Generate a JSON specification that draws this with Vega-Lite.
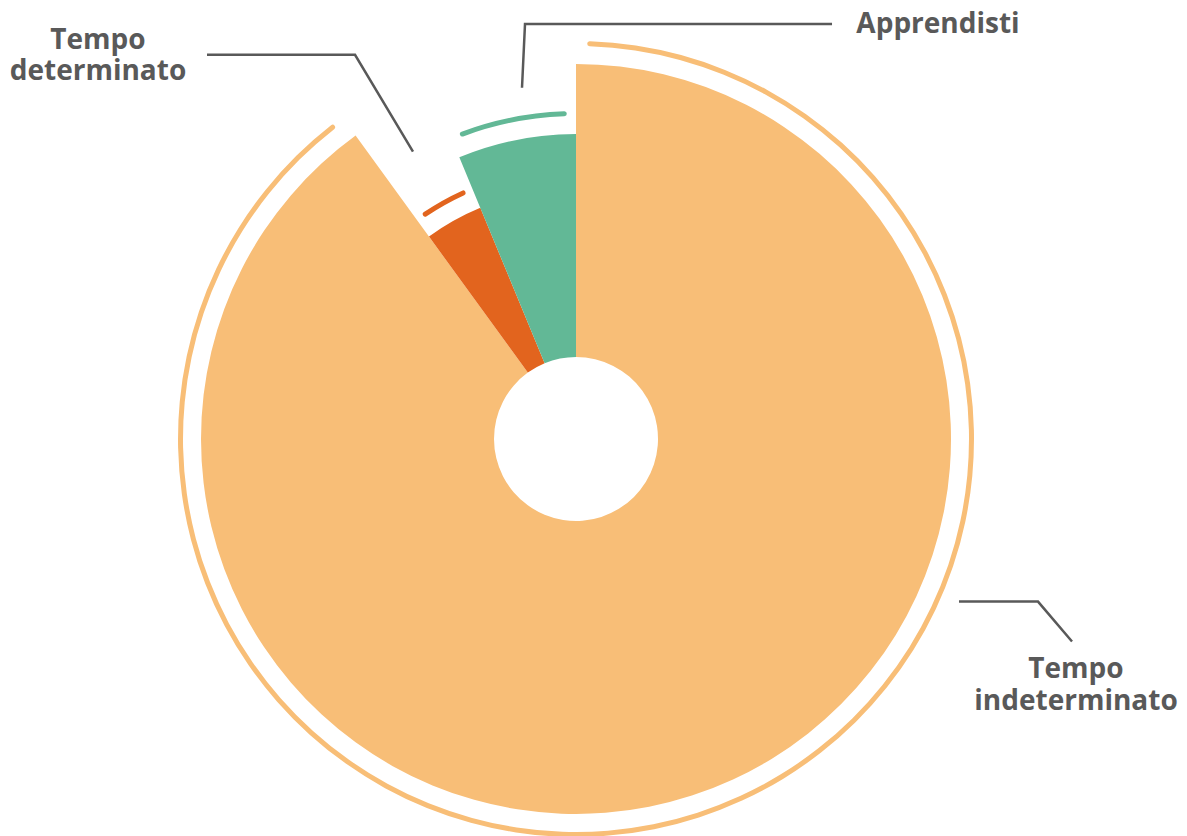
{
  "$schema": "https://vega.github.io/schema/vega-lite/v6.json",
  "width": 1187,
  "height": 836,
  "autosize": {"type": "fit", "contains": "padding"},
  "padding": 0,
  "background": "white",
  "config": {"view": {"stroke": null}},
  "datasets": {
    "segmenti": [
      {"contratto": "Tempo indeterminato", "quota": 90.0, "raggio": 100, "ordine": 1},
      {"contratto": "Tempo determinato", "quota": 3.75, "raggio": 66.7, "ordine": 2},
      {"contratto": "Apprendisti", "quota": 6.25, "raggio": 81.3, "ordine": 3}
    ],
    "richiami": [
      {"etichetta": "Tempo determinato", "punto": 1, "x": -98.4, "y": 102.67},
      {"etichetta": "Tempo determinato", "punto": 2, "x": -58.93, "y": 102.67},
      {"etichetta": "Tempo determinato", "punto": 3, "x": -43.47, "y": 76.8},
      {"etichetta": "Apprendisti", "punto": 1, "x": 68.27, "y": 110.93},
      {"etichetta": "Apprendisti", "punto": 2, "x": -13.6, "y": 110.93},
      {"etichetta": "Apprendisti", "punto": 3, "x": -14.4, "y": 93.87},
      {"etichetta": "Tempo indeterminato", "punto": 1, "x": 102.13, "y": -43.47},
      {"etichetta": "Tempo indeterminato", "punto": 2, "x": 123.2, "y": -43.47},
      {"etichetta": "Tempo indeterminato", "punto": 3, "x": 132.27, "y": -54.13}
    ],
    "etichette": [
      {"testo": "Tempo\ndeterminato", "x": -127.47, "y": 104.27},
      {"testo": "Apprendisti", "x": 96.53, "y": 108.53},
      {"testo": "Tempo\nindeterminato", "x": 133.33, "y": -64.0}
    ]
  },
  "layer": [
    {
      "data": {"name": "segmenti"},
      "transform": [
        {"stack": "quota", "groupby": [], "sort": [{"field": "ordine", "order": "ascending"}], "as": ["inizio", "fine"]}
      ],
      "mark": {"type": "arc", "innerRadius": 82},
      "encoding": {
        "x": {"datum": 0, "type": "quantitative", "scale": {"domain": [-153.6, 162.93], "nice": false, "zero": false}, "axis": null},
        "y": {"datum": 0, "type": "quantitative", "scale": {"domain": [-105.6, 117.33], "nice": false, "zero": false}, "axis": null},
        "theta": {"field": "inizio", "type": "quantitative", "stack": false, "scale": {"domain": [0, 100], "nice": false, "zero": true}},
        "theta2": {"field": "fine"},
        "radius": {"field": "raggio", "type": "quantitative", "scale": {"domain": [0, 100], "range": [0, 375], "zero": true}},
        "color": {
          "field": "contratto",
          "type": "nominal",
          "scale": {"domain": ["Tempo indeterminato", "Tempo determinato", "Apprendisti"], "range": ["#F8BE77", "#E2641E", "#62B896"]},
          "legend": null
        }
      }
    },
    {
      "data": {"name": "segmenti"},
      "transform": [
        {"stack": "quota", "groupby": [], "sort": [{"field": "ordine", "order": "ascending"}], "as": ["inizio", "fine"]}
      ],
      "mark": {"type": "arc", "radiusOffset": 23, "radius2Offset": 18, "padAngle": 0.04, "cornerRadius": 2.5},
      "encoding": {
        "x": {"datum": 0, "type": "quantitative", "scale": {"domain": [-153.6, 162.93], "nice": false, "zero": false}, "axis": null},
        "y": {"datum": 0, "type": "quantitative", "scale": {"domain": [-105.6, 117.33], "nice": false, "zero": false}, "axis": null},
        "theta": {"field": "inizio", "type": "quantitative", "stack": false, "scale": {"domain": [0, 100], "nice": false, "zero": true}},
        "theta2": {"field": "fine"},
        "radius": {"field": "raggio", "type": "quantitative", "scale": {"domain": [0, 100], "range": [0, 375], "zero": true}},
        "radius2": {"field": "raggio"},
        "color": {
          "field": "contratto",
          "type": "nominal",
          "scale": {"domain": ["Tempo indeterminato", "Tempo determinato", "Apprendisti"], "range": ["#F8BE77", "#E2641E", "#62B896"]},
          "legend": null
        }
      }
    },
    {
      "data": {"name": "richiami"},
      "mark": {"type": "line", "color": "#595959", "strokeWidth": 2.5, "strokeJoin": "miter"},
      "encoding": {
        "x": {"field": "x", "type": "quantitative", "scale": {"domain": [-153.6, 162.93], "nice": false, "zero": false}, "axis": null},
        "y": {"field": "y", "type": "quantitative", "scale": {"domain": [-105.6, 117.33], "nice": false, "zero": false}, "axis": null},
        "detail": {"field": "etichetta", "type": "nominal"},
        "order": {"field": "punto", "type": "quantitative"}
      }
    },
    {
      "data": {"name": "etichette"},
      "mark": {"type": "text", "font": "Open Sans", "fontWeight": "bold", "fontSize": 28, "color": "#595959", "lineBreak": "\n", "lineHeight": 31.5, "align": "center", "baseline": "alphabetic"},
      "encoding": {
        "x": {"field": "x", "type": "quantitative", "scale": {"domain": [-153.6, 162.93], "nice": false, "zero": false}, "axis": null},
        "y": {"field": "y", "type": "quantitative", "scale": {"domain": [-105.6, 117.33], "nice": false, "zero": false}, "axis": null},
        "text": {"field": "testo", "type": "nominal"}
      }
    }
  ]
}
